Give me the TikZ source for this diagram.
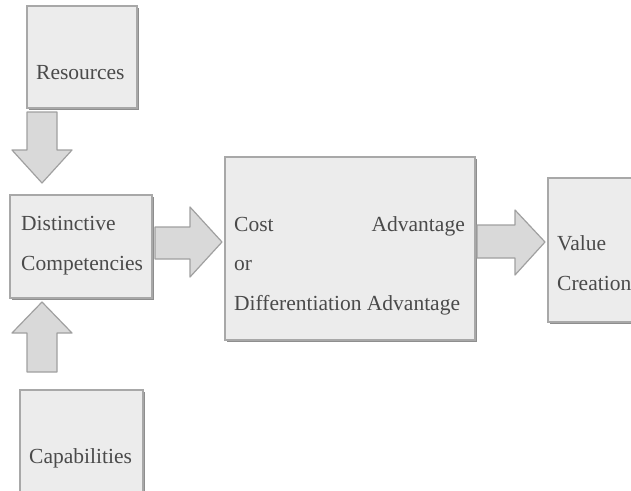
\documentclass[tikz,border=0pt]{standalone}
\usepackage{fontspec}
\setmainfont{Liberation Serif}
\begin{document}
\begin{tikzpicture}[x=1pt,y=-1pt,
  box/.style={draw=boxline,fill=boxfill,line width=1.2pt},
  shade/.style={fill=shadowgray},
  blockarrow/.style={draw=arrowline,fill=arrowfill,line width=1.2pt,line join=round},
  lbl/.style={inner sep=0pt,anchor=base west,text=txt,font=\fontsize{21.5}{24}\selectfont},
  lblr/.style={lbl,anchor=base east}]
\definecolor{boxfill}{HTML}{ECECEC}
\definecolor{boxline}{HTML}{A8A8A8}
\definecolor{shadowgray}{HTML}{8E8E8E}
\definecolor{arrowfill}{HTML}{D9D9D9}
\definecolor{arrowline}{HTML}{A0A0A0}
\definecolor{txt}{HTML}{4A4A4A}
\useasboundingbox (0,0) rectangle (631,490);
\clip (0,0) rectangle (631,490);
\fill[white] (0,0) rectangle (631,490);

% boxes, each with a thin shadow along its lower and right edges
\fill[shade] (29,8) rectangle (139,110);
\draw[box] (27,6) rectangle (137,108);
\coordinate (res) at (82,57);

\fill[shade] (12,197) rectangle (154,300);
\draw[box] (10,195) rectangle (152,298);

\fill[shade] (22,392) rectangle (145,500);
\draw[box] (20,390) rectangle (143,500);

\fill[shade] (227,159) rectangle (477,342);
\draw[box] (225,157) rectangle (475,340);

\fill[shade] (550,180) rectangle (650,324);
\draw[box] (548,178) rectangle (650,322);

% block arrows
\draw[blockarrow] (27,112) -- (57,112) -- (57,150) -- (72,150) -- (42,183)
  -- (12,150) -- (27,150) -- cycle;
\draw[blockarrow] (27,372) -- (57,372) -- (57,333) -- (72,333) -- (42,302)
  -- (12,333) -- (27,333) -- cycle;
\draw[blockarrow] (155,227) -- (190,227) -- (190,207) -- (222,242) -- (190,277)
  -- (190,259) -- (155,259) -- cycle;
\draw[blockarrow] (477,225) -- (515,225) -- (515,210) -- (545,242) -- (515,275)
  -- (515,258) -- (477,258) -- cycle;

% labels
\node[lbl] (resources) at (36,79) {Resources};
\node[lbl] (distinctive) at (21,230) {Distinctive};
\node[lbl] (competencies) at (21,270) {Competencies};
\node[lbl] (capabilities) at (29,463) {Capabilities};
\node[lbl] (cost) at (234,231) {Cost};
\node[lblr] (adv1) at (465,231) {Advantage};
\node[lbl] (or) at (234,270) {or};
\node[lbl] (diff) at (234,310) {Differentiation Advantage};
\node[lbl] (value) at (557,250) {Value};
\node[lbl] (creation) at (557,290) {Creation};
\end{tikzpicture}
\end{document}
